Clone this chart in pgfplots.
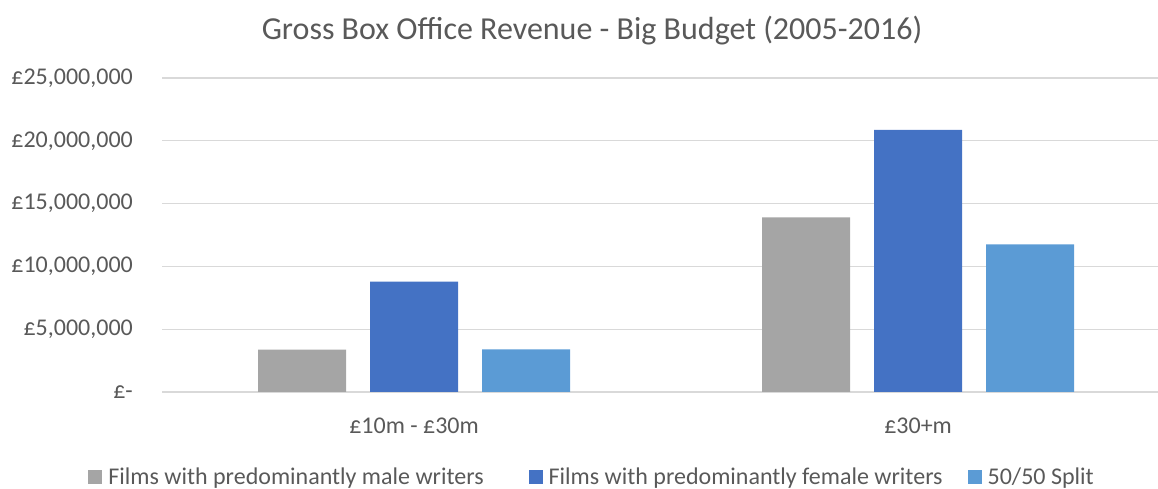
\documentclass[border=0pt]{standalone}
\usepackage{pgfplots}
\pgfplotsset{compat=1.18}
\usepackage{fontspec}
\setmainfont{Carlito}
\definecolor{txt}{HTML}{595959}
\definecolor{gridc}{HTML}{D9D9D9}
\definecolor{cmale}{HTML}{A5A5A5}
\definecolor{cfemale}{HTML}{4472C4}
\definecolor{csplit}{HTML}{5B9BD5}
\begin{document}
\begin{tikzpicture}[x=1pt,y=1pt]
\begin{axis}[name=ax, at={(162pt,97pt)}, anchor=south west,
  scale only axis, width=996pt, height=314pt,
  ybar=24pt, bar width=88pt,
  xmin=-0.5, xmax=1.476, ymin=0, ymax=25000000,
  scaled y ticks=false,
  xtick={0,1}, xticklabels={{£10m - £30m},{£30+m}},
  ytick={0,5000000,10000000,15000000,20000000,25000000},
  yticklabels={{£-},{£5,000,000},{£10,000,000},{£15,000,000},{£20,000,000},{£25,000,000}},
  axis line style={draw=none}, major tick length=0pt,
  ymajorgrids, grid style={color=gridc, line width=1.3pt},
  tick label style={font=\fontsize{24}{28}\selectfont, text=txt},
  yticklabel style={anchor=east, inner sep=0pt, xshift=-29pt},
  xticklabel style={anchor=center, inner sep=0pt, yshift=-34pt},
  legend style={at={(0.4318,-0.271)}, anchor=center, draw=none, fill=none,
    legend columns=3, font=\fontsize{24}{28}\selectfont, text=txt,
    /tikz/every odd column/.append style={column sep=4pt},
    /tikz/column 2/.append style={column sep=43pt},
    /tikz/column 4/.append style={column sep=23pt}},
  legend image code/.code={\fill[#1] (0pt,-7pt) rectangle (14pt,7pt);},
]
\addplot[fill=cmale, draw=none] coordinates {(0,3370000) (1,13910000)};
\addplot[fill=cfemale, draw=none] coordinates {(0,8780000) (1,20860000)};
\addplot[fill=csplit, draw=none] coordinates {(0,3400000) (1,11760000)};
\legend{Films with predominantly male writers, Films with predominantly female writers, 50/50 Split}
\end{axis}
\node[text=txt, font=\fontsize{32}{38}\selectfont] at (592pt,458pt) {Gross Box Office Revenue - Big Budget (2005-2016)};
\pgfresetboundingbox
\path (0pt,0pt) rectangle (1158pt,489pt);
\end{tikzpicture}
\end{document}
